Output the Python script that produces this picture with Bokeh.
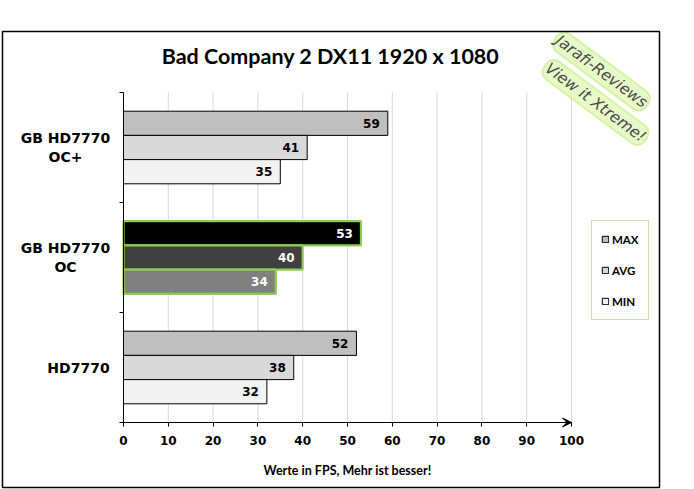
from bokeh.plotting import figure
from bokeh.models import (ColumnDataSource, FixedTicker, Label, Legend, LegendItem,
                          Arrow, VeeHead, BoxAnnotation, Range1d)
from bokeh.core.properties import value
from bokeh.embed import file_html
from bokeh.resources import INLINE

# ---------------- data ----------------
title = "Bad Company 2 DX11 1920 x 1080"
categories = ["GB HD7770\nOC+", "GB HD7770\nOC", "HD7770"]
series = ["MAX", "AVG", "MIN"]
max_vals = [59, 53, 52]
avg_vals = [41, 40, 38]
min_vals = [35, 34, 32]
x_ticks = [0, 10, 20, 30, 40, 50, 60, 70, 80, 90, 100]
x_label = "Werte in FPS, Mehr ist besser!"
watermark = ["Jarafi-Reviews", "View it Xtreme!"]
highlight_index = 1

normal_fill = ["#bfbfbf", "#d9d9d9", "#f2f2f2"]
highlight_fill = ["#000000", "#404040", "#808080"]
highlight_line = "#8fcc55"

values = [max_vals, avg_vals, min_vals]
offsets = [0.22, 0.0, -0.22]
bar_h = 0.22
n = len(categories)
centers = [n - 0.5 - i for i in range(n)]

W, H = 694, 489
# plot area in pixels: x 0..100 -> 123..571, y 0..n -> 422..92
px_x = (571 - 123) / (x_ticks[-1] - x_ticks[0])
px_y = (422 - 92) / n
x_range = Range1d(-123 / px_x, (W - 123) / px_x)
y_range = Range1d(-(H - 422) / px_y, 422 / px_y)

p = figure(width=W, height=H, x_range=x_range, y_range=y_range,
           output_backend="svg", toolbar_location=None,
           min_border_left=0, min_border_right=0, min_border_top=0, min_border_bottom=0)
p.outline_line_color = None
p.background_fill_color = "white"
p.border_fill_color = "white"
p.grid.visible = False

# grid lines (vertical, only inside plot area)
p.segment(x0=x_ticks[1:], x1=x_ticks[1:], y0=0, y1=n, line_color="#d9d9d9", line_width=1)

# x axis
xa = p.xaxis[0]
xa.fixed_location = 0
xa.bounds = (x_ticks[0], x_ticks[-1])
xa.ticker = FixedTicker(ticks=x_ticks)
xa.major_tick_out = 4
xa.major_tick_in = 0
xa.minor_tick_line_color = None
xa.axis_line_color = "black"
xa.major_tick_line_color = "black"
xa.major_label_text_font = "DejaVu Sans"
xa.major_label_text_font_style = "bold"
xa.major_label_text_font_size = "12px"
xa.major_label_text_color = "black"
xa.major_label_standoff = 9
xa.axis_label = x_label
xa.axis_label_text_font = "Lato"
xa.axis_label_text_font_style = "bold"
xa.axis_label_text_font_size = "12.5px"
xa.axis_label_text_color = "black"
xa.axis_label_standoff = 15

# y axis
ya = p.yaxis[0]
ya.fixed_location = 0
ya.bounds = (0, n)
ya.ticker = FixedTicker(ticks=[], minor_ticks=list(range(n + 1)))
ya.minor_tick_out = 4
ya.minor_tick_in = 0
ya.minor_tick_line_color = "black"
ya.major_tick_line_color = None
ya.major_label_text_color = None
ya.axis_line_color = "black"

renderers = []
for si, s in enumerate(series):
    ys = [c + offsets[si] for c in centers]
    fills = [highlight_fill[si] if i == highlight_index else normal_fill[si] for i in range(n)]
    lines = [highlight_line if i == highlight_index else "black" for i in range(n)]
    lws = [2.2 if i == highlight_index else 1 for i in range(n)]
    tcs = ["white" if i == highlight_index else "black" for i in range(n)]
    src = ColumnDataSource(dict(y=ys, v=values[si], fill=fills, line=lines, lw=lws,
                                tc=tcs, t=[str(v) for v in values[si]]))
    r = p.hbar(y="y", left=0, right="v", height=bar_h, fill_color="fill",
               line_color="line", line_width="lw", source=src)
    renderers.append(r)
    p.text(x="v", y="y", text="t", x_offset=-8, text_align="right", text_baseline="middle",
           text_color="tc", text_font=value("DejaVu Sans"), text_font_style="bold",
           text_font_size="12px", source=src)

# axis arrow
p.add_layout(Arrow(end=VeeHead(size=9, line_color="black", fill_color="black", line_width=1),
                   x_start=x_ticks[0], y_start=0, x_end=x_ticks[-1], y_end=0,
                   line_color="black", line_width=1))

# category labels
for i, c in enumerate(categories):
    off = -58 if "\n" in c else -45
    p.add_layout(Label(x=0, y=centers[i], x_offset=off, text=c, text_align="center",
                       text_baseline="middle", text_font="DejaVu Sans", text_font_style="bold",
                       text_font_size="14px", text_color="black"))

# title
p.add_layout(Label(x=50, y=n, x_offset=-17, y_offset=37, text=title, text_align="center",
                   text_baseline="middle", text_font="Lato", text_font_style="bold",
                   text_font_size="21.5px", text_color="black"))

# watermark
wm_pos = [(30, 21), (24, -10)]
for t, (xo, yo) in zip(watermark, wm_pos):
    p.add_layout(Label(x=100, y=n, x_offset=xo, y_offset=yo, text=t, angle=-0.64,
                       text_align="center", text_baseline="middle", text_font="DejaVu Sans",
                       text_font_style="italic", text_font_size="15.5px", text_color="#4a4a4a",
                       background_fill_color="#e2f8bc", background_fill_alpha=0.8,
                       border_line_color="#c8ef8a", border_line_alpha=0.7, border_line_width=2,
                       border_radius=9, padding=2))

# legend
legend = Legend(items=[LegendItem(label=s, renderers=[renderers[i]], index=0) for i, s in enumerate(series)],
                location=(591, H - 320), orientation="vertical",
                border_line_color="#9bbb59", border_line_width=1.5,
                background_fill_color="white", background_fill_alpha=1,
                label_text_font="Lato", label_text_font_style="bold", label_text_font_size="11.5px",
                label_text_color="black",
                glyph_width=8, glyph_height=8, label_standoff=3, label_height=18,
                spacing=13, padding=9, margin=0)
p.add_layout(legend, "center")

# outer chart border
p.add_layout(BoxAnnotation(left=2, right=659, top=31, bottom=487,
                           left_units="canvas", right_units="canvas",
                           top_units="canvas", bottom_units="canvas",
                           fill_color=None, fill_alpha=0, line_color="black",
                           line_alpha=1, line_width=1.5))

open("out.html", "w").write(file_html(p, INLINE))
